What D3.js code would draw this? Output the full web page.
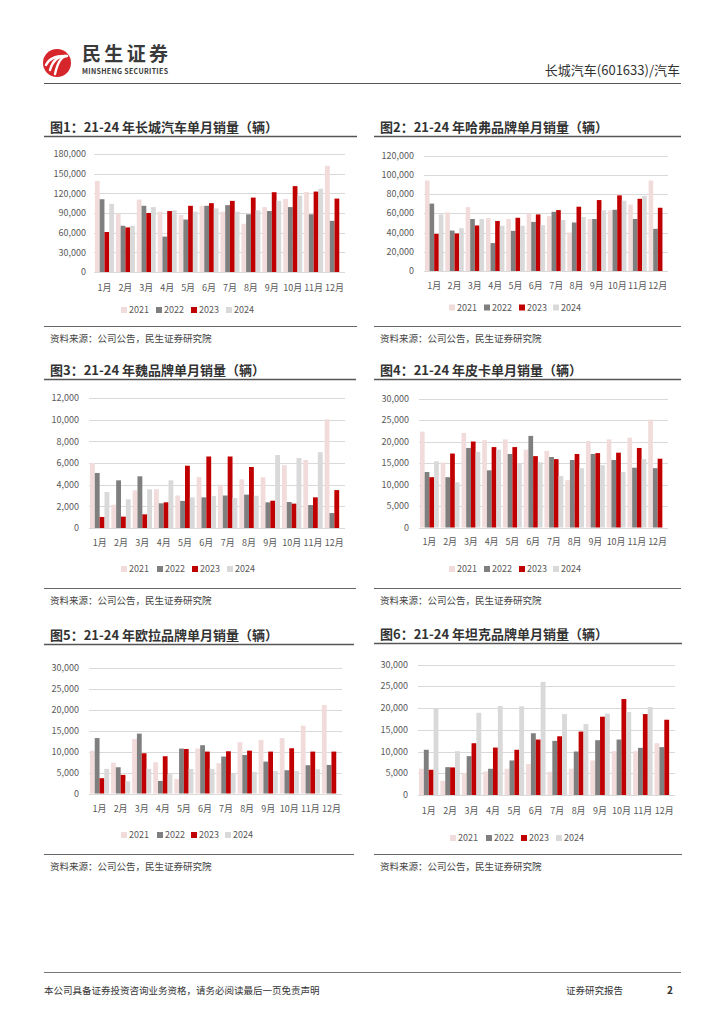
<!DOCTYPE html>
<html>
<head>
<meta charset="utf-8">
<script src="https://cdn.jsdelivr.net/npm/d3@7"></script>
<style>
  body { margin: 0; background: #fff; }
  text { font-family: "Noto Sans CJK SC", "Noto Sans", sans-serif; }
</style>
</head>
<body>
<div id="page"></div>
<script>
// Data
const months = ['1月','2月','3月','4月','5月','6月','7月','8月','9月','10月','11月','12月'];
const years = ['2021','2022','2023','2024'];

// 图1 长城汽车
const gwm2021 = [139000, 89000, 110500, 92000, 87000, 101000, 92000, 73500, 99000, 111500, 122000, 162000];
const gwm2022 = [111000, 70500, 101000, 54000, 80000, 101000, 102000, 88000, 93000, 99000, 88000, 78000];
const gwm2023 = [61000, 68000, 90000, 93000, 101000, 105000, 108500, 113500, 121700, 131000, 122700, 112000];
const gwm2024 = [104000, 70500, 99000, 94000, 92000, 97000, 92000, 94000, 108500, 116600, 127000, null];
const gwmTicks = [0, 30000, 60000, 90000, 120000, 150000, 180000];

// 图2 哈弗
const haval2021 = [94000, 61000, 66400, 55000, 54000, 59500, 57000, 40000, 54000, 63000, 69000, 94000];
const haval2022 = [70000, 42000, 54000, 29000, 41700, 51000, 61500, 50400, 54000, 63600, 54000, 43800];
const haval2023 = [38600, 39000, 47300, 52000, 55300, 58800, 63300, 66800, 73700, 78600, 75000, 65700];
const haval2024 = [58800, 44500, 54000, 47000, 47000, 47600, 53000, 56000, 63000, 73000, 78000, null];
const havalTicks = [0, 20000, 40000, 60000, 80000, 100000, 120000];

// 图3 魏
const wey2021 = [6000, 2150, 3480, 3570, 3000, 4700, 4000, 4500, 4680, 5800, 6280, 10030];
const wey2022 = [5080, 4400, 4770, 2280, 2500, 2830, 3000, 3080, 2370, 2400, 2120, 1380];
const wey2023 = [1020, 1050, 1260, 2370, 5750, 6600, 6600, 5630, 2520, 2250, 2830, 3500];
const wey2024 = [3320, 2650, 3570, 4400, 2830, 2950, 2770, 2980, 6740, 6460, 7000, null];
const weyTicks = [0, 2000, 4000, 6000, 8000, 10000, 12000];

// 图4 皮卡
const pickup2021 = [22300, 15100, 22000, 20300, 20500, 18100, 17800, 11000, 20100, 20500, 20900, 25100];
const pickup2022 = [12900, 11700, 18500, 13300, 17100, 21300, 16400, 15700, 17100, 15700, 13900, 13800];
const pickup2023 = [11700, 17200, 20000, 18700, 18700, 16600, 15900, 17100, 17300, 17400, 18500, 16000];
const pickup2024 = [15400, 10500, 17600, 18100, 15000, 15200, 12000, 13800, 14500, 12900, 15900, null];
const pickupTicks = [0, 5000, 10000, 15000, 20000, 25000, 30000];

// 图5 欧拉
const ora2021 = [10200, 7360, 13000, 7440, 3480, 10700, 7200, 12200, 12750, 13200, 16150, 21060];
const ora2022 = [13200, 6250, 14250, 3000, 10700, 11500, 8800, 9180, 7600, 5540, 6730, 6800];
const ora2023 = [3640, 4430, 9580, 8870, 10600, 9980, 10050, 10200, 9980, 10770, 9980, 9980];
const ora2024 = [5860, 2930, 5860, 4600, 5860, 5860, 4830, 5150, 5380, 5380, 5780, null];
const oraTicks = [0, 5000, 10000, 15000, 20000, 25000, 30000];

// 图6 坦克
const tank2021 = [6030, 3280, 5040, 5420, 6030, 7100, 5340, 6030, 7940, 10080, 10080, 11900];
const tank2022 = [10400, 6400, 8930, 6030, 7940, 14200, 12440, 10000, 12600, 12750, 10840, 11000];
const tank2023 = [5800, 6340, 11900, 10900, 10400, 12750, 13500, 14580, 18000, 22060, 18600, 17300];
const tank2024 = [20000, 10080, 18900, 20460, 20400, 26000, 18600, 16300, 18700, 19080, 20200, null];
const tankTicks = [0, 5000, 10000, 15000, 20000, 25000, 30000];

const colors = ['#f2dcdb', '#7f7f7f', '#c00000', '#d9d9d9'];

const svg = d3.select('#page')
    .append('svg')
    .attr('width', 724)
    .attr('height', 1024);

// Header
const logo = svg.append('g');
logo.append('circle')
    .attr('cx', 57).attr('cy', 63).attr('r', 14)
    .attr('fill', '#d7262b');
// white swooshes in the logo
[[-11, 2, 8], [-7, 7, 9], [-2, 11, 10]].forEach(s => {
    logo.append('path')
        .attr('d', `M${57 + s[0]},${63 + s[1]} Q${57 + s[0] + 4},${63 - 7} ${57 + s[2]},${63 - 7}`)
        .attr('fill', 'none')
        .attr('stroke', '#fff')
        .attr('stroke-width', 2.4)
        .attr('stroke-linecap', 'round');
});
svg.append('text')
    .attr('x', 82).attr('y', 61)
    .style('font-size', '19px')
    .style('font-weight', 'bold')
    .style('fill', '#3a3a3a')
    .attr('textLength', 86)
    .text('民生证券');
svg.append('text')
    .attr('x', 82).attr('y', 74)
    .style('font-size', '7px')
    .style('font-weight', 'bold')
    .style('fill', '#3a3a3a')
    .attr('textLength', 86)
    .text('MINSHENG SECURITIES');
svg.append('text')
    .attr('x', 680).attr('y', 75)
    .attr('text-anchor', 'end')
    .style('font-size', '13px')
    .style('fill', '#333')
    .text('长城汽车(601633)/汽车');
svg.append('line')
    .attr('x1', 44).attr('x2', 681).attr('y1', 83.5).attr('y2', 83.5)
    .attr('stroke', '#555').attr('stroke-width', 1);

// Footer
svg.append('line')
    .attr('x1', 44).attr('x2', 681).attr('y1', 972.5).attr('y2', 972.5)
    .attr('stroke', '#777').attr('stroke-width', 1);
svg.append('text')
    .attr('x', 44).attr('y', 994)
    .style('font-size', '9.5px').style('fill', '#333')
    .text('本公司具备证券投资咨询业务资格，请务必阅读最后一页免责声明');
svg.append('text')
    .attr('x', 566).attr('y', 994)
    .style('font-size', '9.5px').style('fill', '#333')
    .text('证券研究报告');
svg.append('text')
    .attr('x', 667).attr('y', 994)
    .style('font-size', '10px').style('font-weight', 'bold').style('fill', '#333')
    .text('2');

function drawPanel(p) {
    const g = svg.append('g');

    // title and rules
    g.append('text')
        .attr('x', p.left + 6).attr('y', p.titleY + 5)
        .style('font-size', '13px').style('font-weight', 'bold').style('fill', '#333')
        .text(p.title);
    g.append('line')
        .attr('x1', p.left).attr('x2', p.right).attr('y1', p.titleY + 9.5).attr('y2', p.titleY + 9.5)
        .attr('stroke', '#555').attr('stroke-width', 1.3);
    g.append('line')
        .attr('x1', p.left).attr('x2', p.right).attr('y1', p.srcY - 11.5).attr('y2', p.srcY - 11.5)
        .attr('stroke', '#666').attr('stroke-width', 1.2);
    g.append('text')
        .attr('x', p.left + 6).attr('y', p.srcY + 4)
        .style('font-size', '9.5px').style('fill', '#444')
        .text('资料来源：公司公告，民生证券研究院');

    const x = d3.scaleBand()
        .domain(months)
        .range([p.x0, p.x1]);
    const xi = d3.scaleBand()
        .domain(years)
        .range([0, x.bandwidth()])
        .paddingOuter(0.2);
    const y = d3.scaleLinear()
        .domain([0, d3.max(p.ticks)])
        .range([p.y0, p.y1]);

    // gridlines
    g.append('g')
        .selectAll('line')
        .data(p.ticks)
        .join('line')
        .attr('x1', p.x0).attr('x2', p.x1)
        .attr('y1', d => Math.round(y(d)) + 0.5).attr('y2', d => Math.round(y(d)) + 0.5)
        .attr('stroke', '#d9d9d9').attr('stroke-width', 1);

    // y labels
    g.append('g')
        .selectAll('text')
        .data(p.ticks)
        .join('text')
        .attr('x', p.labelX)
        .attr('y', d => y(d) + 3.2)
        .attr('text-anchor', 'end')
        .style('font-size', '9px').style('fill', '#595959')
        .text(d => d3.format(',')(d));

    // bars
    p.series.forEach((vals, si) => {
        g.append('g')
            .selectAll('rect')
            .data(vals.map((v, i) => ({ m: months[i], v: v })).filter(d => d.v != null))
            .join('rect')
            .attr('x', d => x(d.m) + xi(years[si]))
            .attr('width', xi.bandwidth())
            .attr('y', d => y(d.v))
            .attr('height', d => y(0) - y(d.v))
            .attr('fill', colors[si]);
    });

    // month labels
    g.append('g')
        .selectAll('text')
        .data(months)
        .join('text')
        .attr('x', d => x(d) + x.bandwidth() / 2)
        .attr('y', p.monthY + 3.5)
        .attr('text-anchor', 'middle')
        .style('font-size', '9px').style('fill', '#595959')
        .text(d => d);

    // legend
    years.forEach((yr, i) => {
        g.append('rect')
            .attr('x', p.legendX[i] - 3).attr('y', p.legendY - 3)
            .attr('width', 6).attr('height', 6)
            .attr('fill', colors[i]);
        g.append('text')
            .attr('x', p.legendX[i] + 5).attr('y', p.legendY + 3.2)
            .style('font-size', '9px').style('fill', '#595959')
            .text(yr);
    });
}

drawPanel({
    title: '图1：21-24 年长城汽车单月销量（辆）',
    left: 44, right: 357, titleY: 127, srcY: 338,
    x0: 94, x1: 345, y0: 272, y1: 154, labelX: 86,
    ticks: gwmTicks, series: [gwm2021, gwm2022, gwm2023, gwm2024],
    monthY: 287, legendY: 310, legendX: [124, 159, 194, 229]
});
drawPanel({
    title: '图2：21-24 年哈弗品牌单月销量（辆）',
    left: 374, right: 681, titleY: 127, srcY: 338,
    x0: 424, x1: 668, y0: 271, y1: 155.5, labelX: 414,
    ticks: havalTicks, series: [haval2021, haval2022, haval2023, haval2024],
    monthY: 285, legendY: 307.5, legendX: [452, 487, 522, 556]
});
drawPanel({
    title: '图3：21-24 年魏品牌单月销量（辆）',
    left: 44, right: 356, titleY: 370, srcY: 600,
    x0: 89, x1: 345, y0: 528, y1: 398, labelX: 79,
    ticks: weyTicks, series: [wey2021, wey2022, wey2023, wey2024],
    monthY: 542, legendY: 569, legendX: [124, 160, 195, 230]
});
drawPanel({
    title: '图4：21-24 年皮卡单月销量（辆）',
    left: 374, right: 681, titleY: 370, srcY: 600,
    x0: 419, x1: 668, y0: 527.5, y1: 398.5, labelX: 409,
    ticks: pickupTicks, series: [pickup2021, pickup2022, pickup2023, pickup2024],
    monthY: 541, legendY: 569, legendX: [452, 487, 522, 556]
});
drawPanel({
    title: '图5：21-24 年欧拉品牌单月销量（辆）',
    left: 44, right: 354, titleY: 635, srcY: 866,
    x0: 89, x1: 342, y0: 793.5, y1: 667.5, labelX: 79,
    ticks: oraTicks, series: [ora2021, ora2022, ora2023, ora2024],
    monthY: 808, legendY: 835, legendX: [124, 160, 194, 228]
});
drawPanel({
    title: '图6：21-24 年坦克品牌单月销量（辆）',
    left: 374, right: 682, titleY: 634, srcY: 866,
    x0: 418, x1: 675, y0: 795, y1: 664.5, labelX: 408,
    ticks: tankTicks, series: [tank2021, tank2022, tank2023, tank2024],
    monthY: 810, legendY: 838, legendX: [453, 489, 524, 559]
});
</script>
</body>
</html>
